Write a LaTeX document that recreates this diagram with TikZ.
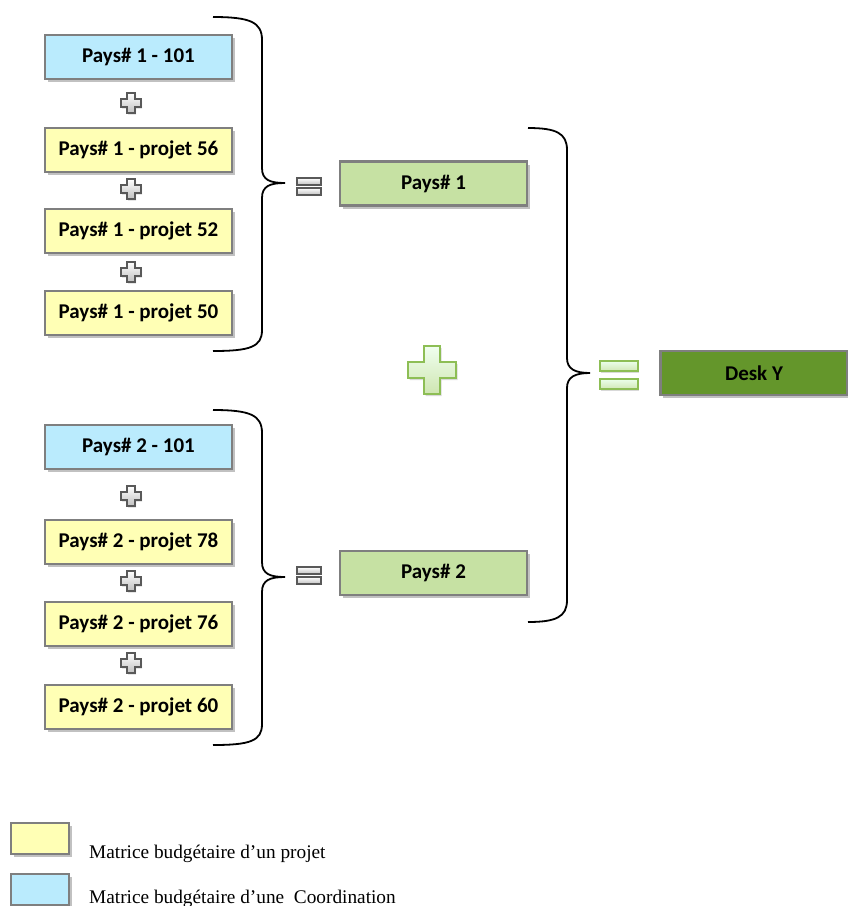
\documentclass[tikz,border=0pt]{standalone}
\usepackage{fontspec}
\setmainfont{Liberation Serif}
\newfontfamily\boxfont{Carlito}
\usetikzlibrary{shadows}
\definecolor{cyanfill}{HTML}{BAEBFD}
\definecolor{yelfill}{HTML}{FFFFB5}
\definecolor{ltgreen}{HTML}{C6E1A3}
\definecolor{dkgreen}{HTML}{64962B}
\definecolor{boxline}{HTML}{7F7F7F}
\definecolor{plusline}{HTML}{8DBE55}
\tikzset{
  x=1pt,y=-1pt,
  bbox/.style={draw=boxline, line width=2.4pt, minimum width=187pt, minimum height=44pt, inner sep=0pt,
    font=\boxfont\bfseries\fontsize{21}{24}\selectfont,
    drop shadow={shadow xshift=2.5pt, shadow yshift=-3pt, opacity=0.35, fill=black!70}},
  cbox/.style={bbox, fill=cyanfill},
  ybox/.style={bbox, fill=yelfill},
  gbox/.style={bbox, fill=ltgreen},
  dbox/.style={bbox, fill=dkgreen},
  lbox/.style={draw=boxline, line width=2.4pt, minimum width=58pt, minimum height=31pt, inner sep=0pt,
    drop shadow={shadow xshift=2.5pt, shadow yshift=-3pt, opacity=0.35, fill=black!70}},
  legtext/.style={anchor=base west, font=\fontsize{19.3}{22}\selectfont, inner sep=0pt},
  brace/.style={draw=black, line width=1.8pt},
  smallplus/.pic={
    \draw[draw=black!65, line width=1.1pt, top color=white, bottom color=black!25,
      drop shadow={shadow xshift=1pt, shadow yshift=-1.5pt, opacity=0.3}]
      (-4,-10)--(4,-10)--(4,-4)--(10,-4)--(10,4)--(4,4)--(4,10)--(-4,10)--(-4,4)--(-10,4)--(-10,-4)--(-4,-4)--cycle;
  },
  grayeq/.pic={
    \draw[draw=black!65, line width=1.1pt, top color=white, bottom color=black!25]
      (-12,-8) rectangle (12,-1);
    \draw[draw=black!65, line width=1.1pt, top color=white, bottom color=black!25]
      (-12,2) rectangle (12,9);
  },
  greeneq/.pic={
    \draw[draw=plusline, line width=1.3pt, top color=green!8!white, bottom color=ltgreen!80!white,
      drop shadow={shadow xshift=1pt, shadow yshift=-1.5pt, opacity=0.3}]
      (-19,-14) rectangle (19,-4);
    \draw[draw=plusline, line width=1.3pt, top color=green!8!white, bottom color=ltgreen!80!white,
      drop shadow={shadow xshift=1pt, shadow yshift=-1.5pt, opacity=0.3}]
      (-19,4) rectangle (19,14);
  },
  bigplus/.pic={
    \draw[draw=plusline, line width=1.5pt, top color=green!6!white, bottom color=ltgreen!85!white,
      drop shadow={shadow xshift=1.5pt, shadow yshift=-2pt, opacity=0.3}]
      (-8,-24)--(8,-24)--(8,-8)--(24,-8)--(24,8)--(8,8)--(8,24)--(-8,24)--(-8,8)--(-24,8)--(-24,-8)--(-8,-8)--cycle;
  }
}
\begin{document}
\begin{tikzpicture}
\useasboundingbox (0,0) rectangle (848,906);

% group 1
\node[cbox] (a1) at (138.5,57) {Pays\# 1 - 101};
\node[ybox] (a2) at (138.5,150) {Pays\# 1 - projet 56};
\node[ybox] (a3) at (138.5,231) {Pays\# 1 - projet 52};
\node[ybox] (a4) at (138.5,313) {Pays\# 1 - projet 50};
\pic at (131,103) {smallplus};
\pic at (131,189) {smallplus};
\pic at (131,272) {smallplus};
\draw[brace] (213,17) .. controls (250,17) and (262,22) .. (262,40)
  -- (262,168) .. controls (262,180) and (270,183) .. (285,183)
  .. controls (270,183) and (262,186) .. (262,198)
  -- (262,330) .. controls (262,347) and (250,351) .. (213,351);
\pic at (309,186) {grayeq};
\node[gbox] (p1) at (433.5,183.5) {Pays\# 1};

% group 2
\node[cbox] (b1) at (138.5,447) {Pays\# 2 - 101};
\node[ybox] (b2) at (138.5,542) {Pays\# 2 - projet 78};
\node[ybox] (b3) at (138.5,624) {Pays\# 2 - projet 76};
\node[ybox] (b4) at (138.5,707) {Pays\# 2 - projet 60};
\pic at (131,496) {smallplus};
\pic at (131,581) {smallplus};
\pic at (131,663) {smallplus};
\draw[brace] (213,410) .. controls (250,410) and (262,415) .. (262,433)
  -- (262,562) .. controls (262,574) and (270,577) .. (285,577)
  .. controls (270,577) and (262,580) .. (262,592)
  -- (262,724) .. controls (262,741) and (250,745) .. (213,745);
\pic at (309,575) {grayeq};
\node[gbox] (p2) at (433.5,573) {Pays\# 2};

% total
\pic at (432,370) {bigplus};
\draw[brace] (528,128) .. controls (556,128) and (567,133) .. (567,150)
  -- (567,358) .. controls (567,369) and (575,373) .. (590,373)
  .. controls (575,373) and (567,377) .. (567,388)
  -- (567,600) .. controls (567,617) and (556,622) .. (528,622);
\pic at (619,375) {greeneq};
\node[dbox] (d) at (754,373) {Desk Y};

% legend
\node[lbox, fill=yelfill] (ly) at (40,838.5) {};
\node[legtext] (ty) at (89,858) {Matrice budgétaire d’un projet};
\node[lbox, fill=cyanfill] (lc) at (40,889.5) {};
\node[legtext] (tc) at (89,903) {Matrice budgétaire d’une\ \ Coordination};
\end{tikzpicture}
\end{document}
